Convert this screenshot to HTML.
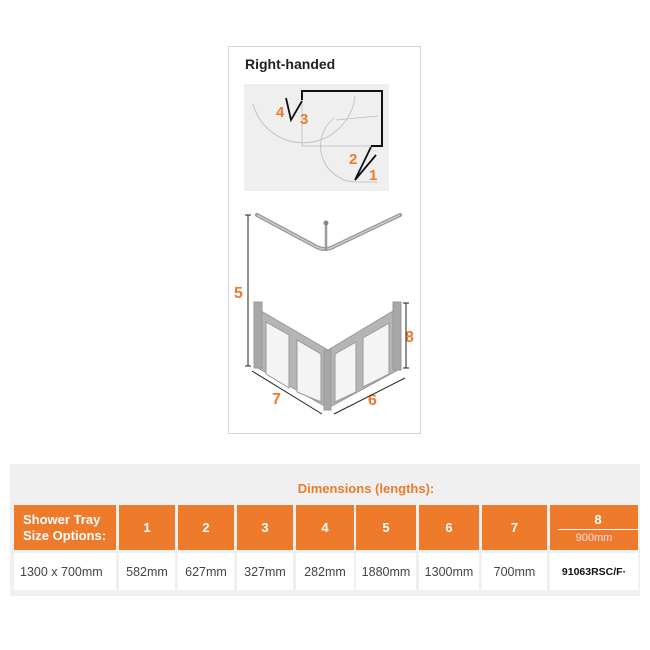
<!DOCTYPE html>
<html><head><style>
body{margin:0;background:#fff;width:650px;height:650px;overflow:hidden;font-family:"Liberation Sans",sans-serif;}
.box{position:absolute;left:228px;top:46px;width:191px;height:386px;border:1px solid #d4d4d4;}
.h,.d{position:absolute;display:flex;align-items:center;justify-content:center;box-sizing:border-box;}
.h{top:505px;height:45px;background:#ee7a2c;color:#fff;font-weight:bold;font-size:13px;}
.d{top:553px;height:37px;background:#fff;color:#444;font-size:12.5px;}
</style></head><body>
<div class="box"></div>
<svg width="650" height="650" style="position:absolute;left:0;top:0" font-family="Liberation Sans, sans-serif">
<text x="245" y="69" font-size="14" font-weight="bold" fill="#222">Right-handed</text>
<rect x="244" y="84" width="145" height="107" fill="#efefef"/>
<g fill="none" stroke="#bbb" stroke-width="0.8">
<path d="M253 104 A52 52 0 0 0 355 96"/>
<path d="M302 100 L302 146 L371 146"/>
<path d="M334 118 A36 36 0 0 0 358 182 L378 182"/>
<path d="M336 120 L378 116"/>
</g>
<path d="M302 100 L302 91 L382 91 L382 146 L371 146" fill="none" stroke="#111" stroke-width="2"/>
<path d="M286 98 L291 120 L302 101" fill="none" stroke="#111" stroke-width="1.8"/>
<path d="M371 147 L355 180 L376 155" fill="none" stroke="#111" stroke-width="1.8"/>
<g fill="#ee7a2c" font-weight="bold" font-size="15">
<text x="276" y="117">4</text><text x="300" y="124">3</text><text x="349" y="164">2</text><text x="369" y="180">1</text>
</g>
<g fill="#ee7a2c" font-weight="bold" font-size="16">
<text x="234" y="298">5</text><text x="405" y="342">8</text><text x="272" y="404">7</text><text x="368" y="405">6</text>
</g>
<path d="M257 215 L315 246 Q325 252 335 246 L400 215" fill="none" stroke="#999" stroke-width="4" stroke-linecap="round"/>
<path d="M257 215 L315 246 Q325 252 335 246 L400 215" fill="none" stroke="#ccc" stroke-width="1.5"/>
<line x1="326" y1="224" x2="326" y2="250" stroke="#999" stroke-width="2.5"/>
<circle cx="326" cy="223" r="2.5" fill="#888"/>
<g stroke="#222" stroke-width="1">
<line x1="248" y1="215" x2="248" y2="366"/><line x1="245" y1="215" x2="251" y2="215"/><line x1="245" y1="366" x2="251" y2="366"/>
<line x1="406" y1="303" x2="406" y2="368"/><line x1="403" y1="303" x2="409" y2="303"/><line x1="403" y1="368" x2="409" y2="368"/>
<line x1="252" y1="371" x2="322" y2="414"/><line x1="334" y1="414" x2="405" y2="378"/>
</g>
<g stroke="#999" stroke-width="1">
<polygon points="256,308 328,350 328,408 256,367" fill="#b5b5b5"/>
<polygon points="328,350 398,308 398,370 328,408" fill="#b5b5b5"/>
<polygon points="266,322 289,335 289,388 266,374" fill="#f4f4f4"/>
<polygon points="297,340 321,354 321,402 297,392" fill="#f4f4f4"/>
<polygon points="335,354 356,342 356,392 335,402" fill="#f4f4f4"/>
<polygon points="363,338 389,323 389,374 363,387" fill="#f4f4f4"/>
<rect x="254" y="302" width="8" height="66" fill="#a8a8a8"/>
<rect x="393" y="302" width="8" height="68" fill="#a8a8a8"/>
<rect x="324" y="350" width="7" height="60" fill="#a8a8a8"/>
</g>
<rect x="10" y="464" width="630" height="132" fill="#f0f0f0"/>
<text x="366" y="493" text-anchor="middle" fill="#ee7a2c" font-size="13" font-weight="bold">Dimensions (lengths):</text>
</svg>
<div class="h" style="left:14px;width:102px;justify-content:flex-start;padding-left:9px;line-height:16px">Shower Tray<br>Size Options:</div>
<div class="h" style="left:119px;width:56px">1</div>
<div class="h" style="left:178px;width:56px">2</div>
<div class="h" style="left:237px;width:56px">3</div>
<div class="h" style="left:296px;width:58px">4</div>
<div class="h" style="left:356px;width:60px">5</div>
<div class="h" style="left:419px;width:60px">6</div>
<div class="h" style="left:482px;width:65px">7</div>
<div class="h" style="left:550px;width:88px;flex-direction:column"><div style="border-bottom:1px solid #fff;width:80px;margin-left:8px;text-align:center;padding-bottom:2px">8</div><div style="font-weight:normal;font-size:11px;color:#fde;padding-top:2px">900mm</div></div>
<div class="d" style="left:14px;width:102px;justify-content:flex-start;padding-left:6px">1300 x 700mm</div>
<div class="d" style="left:119px;width:56px">582mm</div>
<div class="d" style="left:178px;width:56px">627mm</div>
<div class="d" style="left:237px;width:56px">327mm</div>
<div class="d" style="left:296px;width:58px">282mm</div>
<div class="d" style="left:356px;width:60px">1880mm</div>
<div class="d" style="left:419px;width:60px">1300mm</div>
<div class="d" style="left:482px;width:65px">700mm</div>
<div class="d" style="left:550px;width:88px;font-weight:bold;color:#111;font-size:10.5px">91063RSC/F·</div>
</body></html>
